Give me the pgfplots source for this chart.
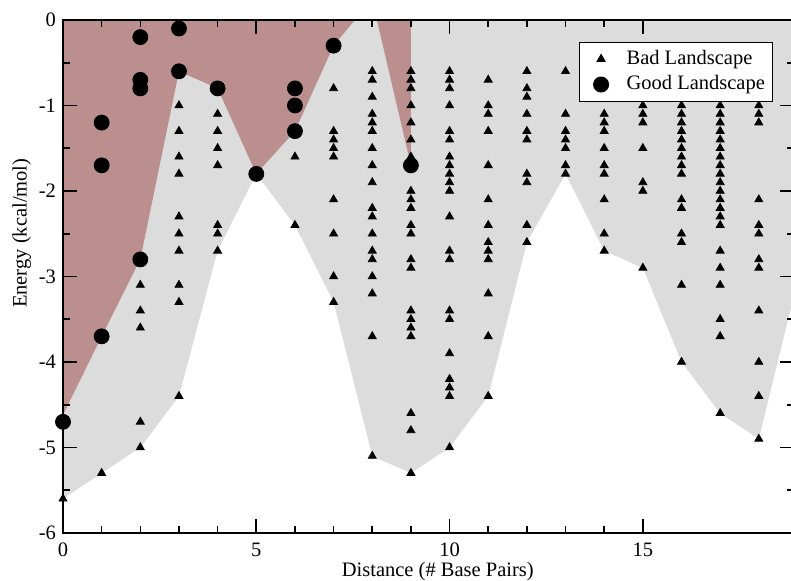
\documentclass[border=0pt]{standalone}
\usepackage{fontspec}
\setmainfont{Liberation Serif}
\usepackage{pgfplots}
\pgfplotsset{compat=1.18}
\definecolor{rosybrown}{RGB}{188,143,143}
\definecolor{lightgrey}{RGB}{220,220,220}
\pgfplotsset{
    widemark/.style={
        legend image code/.code={
            \path[draw=none] (-1.5pt,0pt) (14pt,0pt);
            \draw[##1] plot coordinates {(7pt,0pt)};
        }
    }
}

\begin{document}
\begin{tikzpicture}[font=\fontsize{10.25}{12.3}\selectfont]
\begin{axis}[
    name=main,
    scale only axis, width=365.3pt, height=256.5pt,
    xmin=0, xmax=18.9, ymin=-6, ymax=0,
    xtick={0,5,10,15}, ytick={-6,-5,-4,-3,-2,-1,0},
    minor x tick num=4, minor y tick num=1,
    tick align=inside, major tick length=7pt, minor tick length=3.5pt,
    axis line style={line width=1pt},
    every tick/.style={line width=0.8pt, black},
    /pgf/number format/assume math mode=true,
    tick label style={font=\fontsize{10.25}{12.3}\selectfont},
    xticklabel style={yshift=-1.6pt},
    axis on top, clip=false,
    xlabel={Distance (\# Base Pairs)},
    ylabel={Energy (kcal/mol)},
    xlabel style={at={(axis description cs:0.372,-0.0852)}, anchor=base west},
    ylabel style={at={(axis description cs:-0.0497,0.425)}, anchor=base west},
    legend cell align=left,
    legend style={at={(axis cs:18.37,-0.254)}, anchor=north east,
        draw=black, line width=0.5pt, fill=white, inner sep=2.1pt,
        row sep=0pt,
        nodes={inner sep=1.75pt, text height=7.2pt, text depth=2pt,
               font=\fontsize{10.25}{12.3}\selectfont},
        /tikz/every odd column/.append style={column sep=4pt}},
]
% area above the lowest energies (all points)
\addplot[fill=lightgrey, draw=none, mark=none, forget plot] coordinates {
    (0,0) (0,-5.6) (1,-5.3) (2,-5.0) (3,-4.4) (4,-2.7) (5,-1.8) (6,-2.4)
    (7,-3.3) (8,-5.1) (9,-5.3) (10,-5.0) (11,-4.4) (12,-2.6) (13,-1.8)
    (14,-2.7) (15,-2.9) (16,-4.0) (17,-4.6) (18,-4.9) (18.9,-3.24) (18.9,0)
};
% area above the good landscapes
\addplot[fill=rosybrown, draw=none, mark=none, forget plot] coordinates {
    (0,0) (0,-4.62) (1,-3.7) (2,-2.8) (3,-0.6) (4,-0.8) (5,-1.8) (6,-1.3)
    (7,-0.3) (7.55,0) (8.12,0) (9,-1.7) (9,0)
};

% Bad Landscape
\addplot[only marks, mark=triangle*, mark size=2.3pt, black, widemark] coordinates {
    (0,-5.6)
    (1,-5.3)
    (2,-3.1) (2,-3.4) (2,-3.6) (2,-4.7) (2,-5.0)
    (3,-1.0) (3,-1.3) (3,-1.6) (3,-1.8) (3,-2.3) (3,-2.5) (3,-2.7) (3,-3.1) (3,-3.3) (3,-4.4)
    (4,-1.1) (4,-1.3) (4,-1.5) (4,-1.7) (4,-2.4) (4,-2.5) (4,-2.7)
    (6,-1.6) (6,-2.4)
    (7,-0.8) (7,-1.3) (7,-1.4) (7,-1.5) (7,-1.6) (7,-2.1) (7,-2.5) (7,-3.0) (7,-3.3)
    (8,-0.6) (8,-0.7) (8,-0.9) (8,-1.1) (8,-1.2) (8,-1.3) (8,-1.5) (8,-1.7) (8,-1.9)
    (8,-2.2) (8,-2.3) (8,-2.5) (8,-2.7) (8,-2.8) (8,-3.0) (8,-3.2) (8,-3.7) (8,-5.1)
    (9,-0.6) (9,-0.7) (9,-0.8) (9,-1.0) (9,-1.2) (9,-1.4) (9,-1.6) (9,-2.0) (9,-2.1)
    (9,-2.2) (9,-2.4) (9,-2.5) (9,-2.8) (9,-2.9) (9,-3.4) (9,-3.5) (9,-3.6) (9,-3.7)
    (9,-4.6) (9,-4.8) (9,-5.3)
    (10,-0.6) (10,-0.7) (10,-0.8) (10,-1.0) (10,-1.3) (10,-1.4) (10,-1.6) (10,-1.7)
    (10,-1.8) (10,-1.9) (10,-2.0) (10,-2.3) (10,-2.7) (10,-2.8) (10,-3.4) (10,-3.5)
    (10,-3.9) (10,-4.2) (10,-4.3) (10,-4.4) (10,-5.0)
    (11,-0.7) (11,-1.0) (11,-1.1) (11,-1.3) (11,-1.7) (11,-2.1) (11,-2.4) (11,-2.6)
    (11,-2.7) (11,-2.8) (11,-3.2) (11,-3.7) (11,-4.4)
    (12,-0.6) (12,-0.8) (12,-0.9) (12,-1.1) (12,-1.3) (12,-1.4) (12,-1.8) (12,-1.9)
    (12,-2.4) (12,-2.6)
    (13,-0.6) (13,-1.1) (13,-1.3) (13,-1.4) (13,-1.5) (13,-1.7) (13,-1.8)
    (14,-1.1) (14,-1.2) (14,-1.3) (14,-1.5) (14,-1.7) (14,-1.8) (14,-2.1) (14,-2.5) (14,-2.7)
    (15,-1.0) (15,-1.1) (15,-1.2) (15,-1.5) (15,-1.9) (15,-2.0) (15,-2.9)
    (16,-1.0) (16,-1.1) (16,-1.2) (16,-1.3) (16,-1.4) (16,-1.5) (16,-1.6) (16,-1.7)
    (16,-1.8) (16,-2.1) (16,-2.2) (16,-2.5) (16,-2.6) (16,-3.1) (16,-4.0)
    (17,-1.0) (17,-1.1) (17,-1.2) (17,-1.3) (17,-1.4) (17,-1.5) (17,-1.6) (17,-1.7)
    (17,-1.8) (17,-1.9) (17,-2.0) (17,-2.1) (17,-2.2) (17,-2.3) (17,-2.4) (17,-2.7)
    (17,-2.9) (17,-3.1) (17,-3.5) (17,-3.7) (17,-4.6)
    (18,-1.0) (18,-1.1) (18,-1.2) (18,-2.1) (18,-2.4) (18,-2.5) (18,-2.8) (18,-2.9)
    (18,-3.4) (18,-4.0) (18,-4.4) (18,-4.9)
};
\addlegendentry{Bad Landscape}

% Good Landscape
\addplot[only marks, mark=*, mark size=3.75pt, black, widemark] coordinates {
    (0,-4.7)
    (1,-1.2) (1,-1.7) (1,-3.7)
    (2,-0.2) (2,-0.7) (2,-0.8) (2,-2.8)
    (3,-0.1) (3,-0.6)
    (4,-0.8)
    (5,-1.8)
    (6,-0.8) (6,-1.0) (6,-1.3)
    (7,-0.3)
    (9,-1.7)
};
\addlegendentry{Good Landscape}
\end{axis}
\pgfresetboundingbox
\path[use as bounding box] ([shift={(-31.5pt,-24pt)}]main.south west)
    rectangle ([shift={(364pt,266.5pt)}]main.south west);
\end{tikzpicture}
\end{document}
